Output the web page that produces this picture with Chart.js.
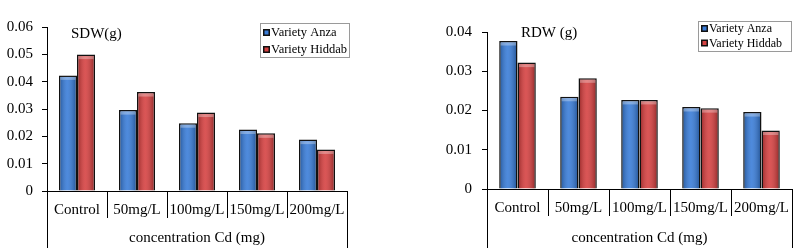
<!DOCTYPE html>
<html>
<head>
<meta charset="utf-8">
<script src="https://cdn.jsdelivr.net/npm/chart.js@4.4.1/dist/chart.umd.min.js"></script>
<style>
  html, body { margin:0; padding:0; background:#fff; }
  #wrap { position:relative; width:800px; height:248px; }
  .panel { position:absolute; top:0; width:400px; height:248px; }
</style>
</head>
<body>
<div id="wrap">
  <div class="panel" style="left:0"><canvas id="sdwChart" width="400" height="248"></canvas></div>
  <div class="panel" style="left:400px"><canvas id="rdwChart" width="400" height="248"></canvas></div>
</div>
<script>
// ── Data ──────────────────────────────────────────────────────
const categories = ['Control', '50mg/L', '100mg/L', '150mg/L', '200mg/L'];
const seriesNames = ['Variety Anza', 'Variety Hiddab'];

const sdwAnza   = [0.0423, 0.0296, 0.0248, 0.0225, 0.0188];
const sdwHiddab = [0.0499, 0.0362, 0.0287, 0.0211, 0.0152];
const sdwTicks  = [0, 0.01, 0.02, 0.03, 0.04, 0.05, 0.06];

const rdwAnza   = [0.0377, 0.0235, 0.0227, 0.0209, 0.0196];
const rdwHiddab = [0.0322, 0.0282, 0.0227, 0.0206, 0.0149];
const rdwTicks  = [0, 0.01, 0.02, 0.03, 0.04];

const xTitle = 'concentration Cd (mg)';

// ── Styling ───────────────────────────────────────────────────
const SERIF  = '"Liberation Serif", "Times New Roman", serif';
const BLUE   = '#3a7dd8';
const RED    = '#d64242';

// bar shading, a bit like the Excel 3D-ish fill
const barShade = {
  id: 'barShade',
  afterDatasetsDraw(chart) {
    const ctx = chart.ctx;
    chart.data.datasets.forEach((ds, di) => {
      chart.getDatasetMeta(di).data.forEach(bar => {
        const { x, y, base, width } = bar.getProps(['x', 'y', 'base', 'width'], true);
        const l = x - width / 2 + 1.5, r = x + width / 2 - 1.5;
        const t = y + 1.5, b = base;
        if (b - t < 2) return;
        const g = ctx.createLinearGradient(l, 0, r, 0);
        g.addColorStop(0,    'rgba(0,0,0,0.22)');
        g.addColorStop(0.45, 'rgba(255,255,255,0.10)');
        g.addColorStop(1,    'rgba(0,0,0,0.25)');
        ctx.save();
        ctx.fillStyle = g;
        ctx.fillRect(l, t, r - l, b - t);
        ctx.fillStyle = 'rgba(255,255,255,0.30)';
        ctx.fillRect(l, t, r - l, 3);
        ctx.restore();
      });
    });
  }
};

// long outer lines of the two-level category axis + chart label + legend box
const decor = {
  id: 'decor',
  afterDraw(chart, args, o) {
    const ctx = chart.ctx;
    const a = chart.chartArea;
    ctx.save();
    ctx.strokeStyle = '#000';
    ctx.lineWidth = 1;
    ctx.beginPath();
    [a.left, a.right].forEach(px => {
      const xx = Math.round(px) + 0.5;
      ctx.moveTo(xx, a.bottom);
      ctx.lineTo(xx, chart.height);
    });
    ctx.stroke();

    // label inside the plot
    ctx.fillStyle = '#000';
    ctx.font = '15px ' + SERIF;
    ctx.textBaseline = 'alphabetic';
    ctx.fillText(o.label, o.labelX, o.labelY);

    // legend
    const L = o.legend;
    ctx.fillStyle = '#fff';
    ctx.fillRect(L.x, L.y, L.w, L.h);
    ctx.strokeStyle = '#9a9a9a';
    ctx.strokeRect(L.x + 0.5, L.y + 0.5, L.w, L.h);
    ctx.font = L.font + 'px ' + SERIF;
    ctx.textBaseline = 'middle';
    chart.data.datasets.forEach((ds, i) => {
      const cy = L.y + L.first + i * L.rowH;
      ctx.fillStyle = '#111';
      ctx.fillRect(L.x + 3, cy - 3.5, 7, 7);
      ctx.fillStyle = ds.backgroundColor;
      ctx.fillRect(L.x + 4.5, cy - 2, 4, 4);
      ctx.fillStyle = '#000';
      ctx.fillText(ds.label, L.x + 11, cy + 0.5);
    });
    ctx.restore();
  }
};

function makeChart(id, anza, hiddab, ticks, box, deco) {
  return new Chart(document.getElementById(id), {
    type: 'bar',
    data: {
      labels: categories,
      datasets: [
        { label: seriesNames[0], data: anza,   backgroundColor: BLUE },
        { label: seriesNames[1], data: hiddab, backgroundColor: RED  },
      ]
    },
    options: {
      responsive: false,
      animation: false,
      layout: { padding: { left: 0, right: box.right, top: box.top, bottom: 0 } },
      datasets: {
        bar: {
          categoryPercentage: 0.6,
          barPercentage: 1,
          borderColor: '#111',
          borderWidth: 1.5,
          borderSkipped: 'bottom',
        }
      },
      plugins: {
        legend:  { display: false },
        tooltip: { enabled: false },
        decor: deco,
      },
      scales: {
        x: {
          afterFit: s => { s.height = box.xHeight; },
          grid: { offset: true, drawOnChartArea: false, color: '#000', tickLength: 27, lineWidth: 1 },
          border: { color: '#000', width: 1 },
          ticks: { color: '#000', font: { family: SERIF, size: 15 }, padding: -17, maxRotation: 0, autoSkip: false },
          title: { display: true, text: xTitle, color: '#000', font: { family: SERIF, size: 15 }, padding: { top: 0, bottom: 1 } },
        },
        y: {
          min: 0,
          max: ticks[ticks.length - 1],
          afterFit: s => { s.width = box.left; },
          afterBuildTicks: s => { s.ticks = ticks.map(v => ({ value: v })); },
          grid: { drawOnChartArea: false, color: '#000', tickLength: 5 },
          border: { color: '#000', width: 1 },
          ticks: {
            color: '#000',
            font: { family: SERIF, size: 15 },
            padding: box.tickPad,
            callback: v => v === 0 ? '0' : v.toFixed(2),
          },
        }
      }
    },
    plugins: [barShade, decor]
  });
}

makeChart('sdwChart', sdwAnza, sdwHiddab, sdwTicks,
  { left: 47, right: 53, top: 27, xHeight: 57, tickPad: 9 },
  { label: 'SDW(g)', labelX: 71, labelY: 38,
    legend: { x: 260, y: 23, w: 89, h: 34, first: 9.5, rowH: 17, font: 12.5 } });

makeChart('rdwChart', rdwAnza, rdwHiddab, rdwTicks,
  { left: 87, right: 8, top: 32, xHeight: 59, tickPad: 10 },
  { label: 'RDW (g)', labelX: 121, labelY: 37,
    legend: { x: 298, y: 21, w: 93, h: 30, first: 7.5, rowH: 14.5, font: 12 } });
</script>
</body>
</html>
